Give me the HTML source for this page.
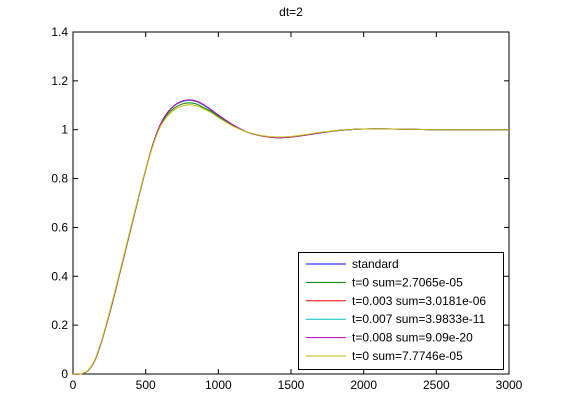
<!DOCTYPE html>
<html><head><meta charset="utf-8"><style>
body{margin:0;background:#fff;}
svg{display:block;font-family:"Liberation Sans",Arial,sans-serif;}
</style></head><body>
<svg id="chart" width="561" height="420">
<rect x="0" y="0" width="561" height="420" fill="#fff"/>
<rect x="73" y="32" width="436" height="342" fill="#fff" stroke="#000" stroke-width="1"/>
<text x="291" y="16" font-size="12" text-anchor="middle">dt=2</text>
<g id="axes"></g>
<g id="series"></g>
<g id="legend"></g>
</svg>
<script>
const xTicks=[0,500,1000,1500,2000,2500,3000];
const yTicks=[0,0.2,0.4,0.6,0.8,1,1.2,1.4];
const yTickLabels=["0","0.2","0.4","0.6","0.8","1","1.2","1.4"];
const times=[0,50,100,150,200,250,300,350,400,450,500,550,600,650,700,750,800,850,900,950,1000,1100,1200,1300,1400,1500,1600,1700,1800,1900,2000,2200,2400,2600,3000];
const standard=[0,0,0.012,0.055,0.14,0.245,0.36,0.48,0.6,0.72,0.835,0.94,1.02,1.07,1.1,1.115,1.12,1.115,1.1,1.08,1.06,1.02,0.99,0.975,0.968,0.97,0.978,0.987,0.995,1.0,1.003,1.003,1.001,1.0,1.0];
const green=[0,0,0.012,0.055,0.14,0.245,0.36,0.48,0.6,0.72,0.835,0.94,1.018,1.063,1.09,1.105,1.11,1.105,1.09,1.075,1.055,1.018,0.99,0.975,0.969,0.971,0.979,0.988,0.996,1.0,1.003,1.003,1.001,1.0,1.0];
const red=[0,0,0.012,0.055,0.14,0.245,0.36,0.48,0.6,0.72,0.835,0.94,1.02,1.07,1.1,1.117,1.122,1.117,1.102,1.082,1.06,1.02,0.99,0.974,0.967,0.97,0.978,0.987,0.995,1.0,1.003,1.003,1.001,1.0,1.0];
const cyan=[0,0,0.012,0.055,0.14,0.245,0.36,0.48,0.6,0.72,0.835,0.94,1.02,1.07,1.1,1.115,1.12,1.115,1.1,1.08,1.06,1.02,0.99,0.975,0.968,0.97,0.978,0.987,0.995,1.0,1.003,1.003,1.001,1.0,1.0];
const magenta=[0,0,0.012,0.055,0.14,0.245,0.36,0.48,0.6,0.72,0.835,0.94,1.02,1.07,1.1,1.117,1.122,1.117,1.102,1.082,1.06,1.02,0.99,0.974,0.967,0.97,0.978,0.987,0.995,1.0,1.003,1.003,1.001,1.0,1.0];
const yellow=[0,0,0.013,0.057,0.143,0.25,0.365,0.485,0.605,0.723,0.835,0.935,1.012,1.055,1.083,1.097,1.102,1.098,1.085,1.07,1.05,1.015,0.99,0.976,0.97,0.972,0.98,0.989,0.996,1.0,1.003,1.003,1.001,1.0,1.0];
const seriesNames=["standard","t=0 sum=2.7065e-05","t=0.003 sum=3.0181e-06","t=0.007 sum=3.9833e-11","t=0.008 sum=9.09e-20","t=0 sum=7.7746e-05"];
const seriesColors=["#0000ff","#008000","#ff0000","#00bfbf","#bf00bf","#bfbf00"];
const seriesData=[standard,green,red,cyan,magenta,yellow];
const NS="http://www.w3.org/2000/svg";
const L=73,R=509,T=32,B=374;
function sx(v){return L+(v-0)/3000*(R-L);}
function sy(v){return B-(v-0)/1.4*(B-T);}
function mk(tag,attrs,parent){const e=document.createElementNS(NS,tag);for(const k in attrs)e.setAttribute(k,attrs[k]);parent.appendChild(e);return e;}
function smoothPath(p){
  let d='M'+p[0][0].toFixed(2)+','+p[0][1].toFixed(2);
  for(let i=0;i<p.length-1;i++){
    const p0=p[Math.max(0,i-1)],p1=p[i],p2=p[i+1],p3=p[Math.min(p.length-1,i+2)];
    const c1x=p1[0]+(p2[0]-p0[0])/6,c1y=p1[1]+(p2[1]-p0[1])/6;
    const c2x=p2[0]-(p3[0]-p1[0])/6,c2y=p2[1]-(p3[1]-p1[1])/6;
    d+=' C'+c1x.toFixed(2)+','+c1y.toFixed(2)+' '+c2x.toFixed(2)+','+c2y.toFixed(2)+' '+p2[0].toFixed(2)+','+p2[1].toFixed(2);
  }
  return d;
}
const axes=document.getElementById('axes');
xTicks.forEach(v=>{
  const x=sx(v);
  const t1=mk('line',{x1:x,x2:x,y1:B,y2:B-5,stroke:'#000'},axes);
  
  
  mk('line',{x1:x,x2:x,y1:T,y2:T+5,stroke:'#000'},axes);
  const tx=mk('text',{x:x,y:B+15,'font-size':12,'text-anchor':'middle'},axes);
  tx.textContent=String(v);
  
  
});
yTicks.forEach((v,i)=>{
  const y=sy(v);
  const t1=mk('line',{x1:L,x2:L+5,y1:y,y2:y,stroke:'#000'},axes);
  
  
  mk('line',{x1:R,x2:R-5,y1:y,y2:y,stroke:'#000'},axes);
  const tx=mk('text',{x:L-5,y:y+4,'font-size':12,'text-anchor':'end'},axes);
  tx.textContent=yTickLabels[i];
  
  
});
const sg=document.getElementById('series');
seriesData.forEach((d,i)=>{
  const pts=times.map((t,j)=>[sx(t),sy(d[j])]);
  const p=mk('path',{d:smoothPath(pts),fill:'none',stroke:seriesColors[i],'stroke-width':1},sg);
  
  
});
const lg=document.getElementById('legend');
const box=mk('rect',{x:298.5,y:252.5,width:205,height:117,fill:'#fff',stroke:'#000'},lg);


seriesNames.forEach((n,i)=>{
  const y=264+i*18.4;
  mk('line',{x1:306,x2:346,y1:y,y2:y,stroke:seriesColors[i]},lg);
  const tx=mk('text',{x:352,y:y+4,'font-size':12},lg);
  tx.textContent=n;
  
  
});
</script>
</body></html>
